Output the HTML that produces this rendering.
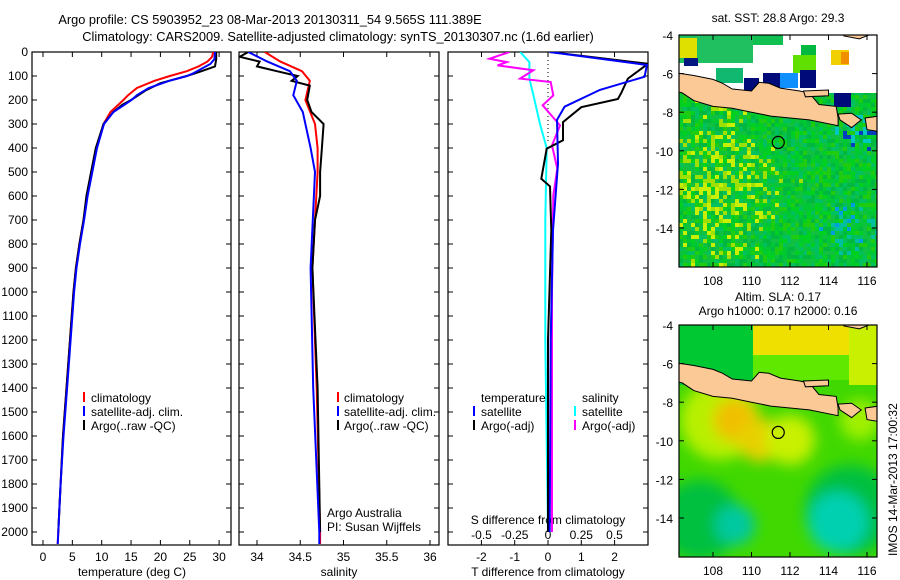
<!DOCTYPE html>
<html><head><meta charset="utf-8"><style>
html,body{margin:0;padding:0;background:#fff}
svg{display:block;font-family:"Liberation Sans",sans-serif}
text{font-size:12px;fill:#000}
text.t{font-size:12.8px}
</style></head><body>
<svg id="s" width="900" height="580" viewBox="0 0 900 580">
<defs>
<filter id="blur" x="-20%" y="-20%" width="140%" height="140%"><feGaussianBlur stdDeviation="7"/></filter>
<clipPath id="cp1"><rect x="32" y="52" width="199" height="493"/></clipPath>
<clipPath id="cp2"><rect x="239" y="52" width="200" height="493"/></clipPath>
<clipPath id="cp3"><rect x="448" y="52" width="200" height="493"/></clipPath>
<clipPath id="cm1"><rect x="679" y="35" width="198" height="232"/></clipPath>
<clipPath id="cm2"><rect x="679" y="325" width="198" height="232"/></clipPath>
</defs>
<text class="t" x="270" y="24" text-anchor="middle">Argo profile: CS 5903952_23 08-Mar-2013 20130311_54 9.565S 111.389E</text>
<text class="t" x="338" y="41" text-anchor="middle">Climatology: CARS2009. Satellite-adjusted climatology: synTS_20130307.nc (1.6d earlier)</text>
<g id="g"></g>
</svg>
<script>
// ---------- data ----------
const tDepth   = [0,20,40,60,80,100,120,150,180,200,250,300,400,500,600,700,800,900,1000,1200,1400,1600,1800,2000,2050];
const tClim    = [29.0,28.8,28.0,26.5,24.5,21.6,19.0,16.0,14.5,13.7,11.5,10.3,9.1,8.3,7.5,6.9,6.2,5.6,5.2,4.6,4.0,3.4,3.0,2.6,2.5];
const tSatDepth= [0,30,50,70,90,100,120,150,180,200,250,300,400,500,600,700,800,900,1000,1200,1400,1600,1800,2000,2050];
const tSat     = [29.3,29.2,28.5,27.0,25.5,24.5,21.5,18.0,16.0,15.1,12.0,10.4,9.2,8.4,7.6,7.0,6.3,5.7,5.3,4.7,4.1,3.5,3.0,2.6,2.5];
const tArgoDepth=[0,30,60,80,100,130,160,200,220,250,300,400,500,600,700,800,900,1000,1200,1400,1600,1800,1950,2000];
const tArgo    = [29.5,29.5,29.3,27.0,24.5,20.0,17.5,15.0,13.5,12.0,10.3,9.0,8.2,7.4,6.9,6.2,5.6,5.2,4.6,4.0,3.4,3.0,2.7,2.6];

const sClimDepth=[0,40,80,120,200,300,400,500,700,900,1400,2000,2050];
const sClim    = [34.09,34.27,34.52,34.61,34.56,34.67,34.70,34.70,34.67,34.64,34.69,34.73,34.73];
const sSatDepth= [0,40,80,120,180,250,400,500,900,1400,2000,2050];
const sSat     = [33.90,34.12,34.38,34.46,34.42,34.53,34.62,34.67,34.62,34.65,34.72,34.72];
const sArgoDepth=[0,20,40,60,80,100,120,140,200,250,300,400,500,600,700,900,1400,2000];
const sArgo    = [33.90,33.80,34.03,34.00,34.23,34.47,34.40,34.61,34.58,34.63,34.77,34.75,34.73,34.73,34.67,34.64,34.70,34.73];

const dTSatDepth=[0,54,103,158,228,283,465,743,1200,2000];
const dTSat    = [0.05,2.97,2.9,1.56,0.5,0.27,0.3,0.15,0.08,0.05];
const dTArgoDepth=[0,49,111,170,196,230,292,368,403,528,560,743,1200,2000];
const dTArgo   = [0.05,3.0,2.4,2.2,2.1,1.0,0.45,0.45,-0.04,-0.2,0.06,0.1,0.0,0.0];
const dSSatDepth=[0,42,111,180,300,400,700,1200,2000];
const dSSat    = [-0.21,-0.14,-0.14,-0.11,-0.06,-0.01,-0.02,-0.02,0.0];
const dSArgoDepth=[0,28,42,56,76,111,125,181,222,306,389,486,597,1000,2000];
const dSArgo   = [-0.29,-0.44,-0.31,-0.38,-0.11,-0.21,0.02,0.04,-0.04,0.09,0.03,0.07,0.04,0.03,0.03];

const depthTicks=[0,100,200,300,400,500,600,700,800,900,1000,1100,1200,1300,1400,1500,1600,1700,1800,1900,2000];
const tTicks=[0,5,10,15,20,25,30];
const sTicks=[34,34.5,35,35.5,36];
const dTTicks=[-2,-1,0,1,2];
const dSTicks=[-0.5,-0.25,0,0.25,0.5];
const latTicks=[-4,-6,-8,-10,-12,-14];
const lonTicks=[108,110,112,114,116];

// ---------- helpers ----------
const NS="http://www.w3.org/2000/svg", G=document.getElementById('g');
function mk(tag,attrs,parent){const e=document.createElementNS(NS,tag);for(const k in attrs)e.setAttribute(k,attrs[k]);(parent||G).appendChild(e);return e;}
function txt(x,y,s,anchor,parent){const e=mk('text',{x:x,y:y,'text-anchor':anchor||'start'},parent);e.textContent=s;return e;}
const yD=d=>52+d*0.24;
const xT=v=>43+v*5.87;
const xS=v=>257+(v-34)*86.5;
const xDT=v=>548+v*33.3;
const xDS=v=>548+v*133;
function line(xs,ds,fx,color,clip,name){
  const p=xs.map((v,i)=>fx(v).toFixed(1)+','+yD(ds[i]).toFixed(1)).join(' ');
  const e=mk('polyline',{points:p,fill:'none',stroke:color,'stroke-width':2,'clip-path':'url(#'+clip+')'});
  
  
}
function frame(x,y,w,h,name){const e=mk('rect',{x:x,y:y,width:w,height:h,fill:'none',stroke:'#000','stroke-width':1.2});
  
  }
function vtick(x,y0,y1){mk('line',{x1:x,y1:y0,x2:x,y2:y1,stroke:'#000','stroke-width':1});}
function htick(y,x0,x1){mk('line',{x1:x0,y1:y,x2:x1,y2:y,stroke:'#000','stroke-width':1});}

// ---------- panel 1: temperature ----------
frame(32,52,199,493,'temperature-panel');
depthTicks.forEach(d=>{htick(yD(d),32,37);htick(yD(d),226,231);htick(yD(d),239,244);htick(yD(d),434,439);htick(yD(d),448,453);htick(yD(d),643,648);
  const t=txt(28,yD(d)+4,String(d),'end');});
tTicks.forEach(v=>{vtick(xT(v),545,540);vtick(xT(v),52,57);txt(xT(v),561,String(v),'middle');});
txt(132,576,'temperature (deg C)','middle');
line(tClim,tDepth,xT,'#f00','cp1','temp-climatology-line');
line(tArgo,tArgoDepth,xT,'#000','cp1','temp-argo-line');
line(tSat,tSatDepth,xT,'#00f','cp1','temp-satellite-line');
[['#f00','climatology'],['#00f','satellite-adj. clim.'],['#000','Argo(..raw -QC)']].forEach((l,i)=>{
  mk('rect',{x:83,y:392+i*14,width:2,height:10,fill:l[0]});txt(91,402+i*14,l[1]);
  mk('rect',{x:337,y:392+i*14,width:2,height:10,fill:l[0]});txt(344,402+i*14,l[1]);
});

// ---------- panel 2: salinity ----------
frame(239,52,200,493,'salinity-panel');
sTicks.forEach(v=>{vtick(xS(v),545,540);vtick(xS(v),52,57);txt(xS(v),561,String(v),'middle');});
txt(339,576,'salinity','middle');
line(sClim,sClimDepth,xS,'#f00','cp2','sal-climatology-line');
line(sArgo,sArgoDepth,xS,'#000','cp2','sal-argo-line');
line(sSat,sSatDepth,xS,'#00f','cp2','sal-satellite-line');
txt(327,517,'Argo Australia');txt(327,531,'PI: Susan Wijffels');

// ---------- panel 3: differences ----------
frame(448,52,200,493,'difference-panel');
mk('line',{x1:548,y1:52,x2:548,y2:yD(380),stroke:'#000','stroke-width':1,'stroke-dasharray':'1,3'});
dTTicks.forEach(v=>{vtick(xDT(v),545,540);txt(xDT(v),561,String(v),'middle');});
dSTicks.forEach(v=>{vtick(xDS(v),52,57);txt(xDS(v),539,String(v),'middle');});
txt(548,524,'S difference from climatology','middle');
txt(548,576,'T difference from climatology','middle');
line(dSSat,dSSatDepth,xDS,'#0ff','cp3','sal-diff-satellite-line');
line(dSArgo,dSArgoDepth,xDS,'#f0f','cp3','sal-diff-argo-line');
line(dTArgo,dTArgoDepth,xDT,'#000','cp3','temp-diff-argo-line');
line(dTSat,dTSatDepth,xDT,'#00f','cp3','temp-diff-satellite-line');
txt(481,402,'temperature');txt(582,402,'salinity');
mk('rect',{x:473,y:406,width:2,height:10,fill:'#00f'});txt(481,416,'satellite');
mk('rect',{x:473,y:420,width:2,height:10,fill:'#000'});txt(481,430,'Argo(-adj)');
mk('rect',{x:574,y:406,width:2,height:10,fill:'#0ff'});txt(582,416,'satellite');
mk('rect',{x:574,y:420,width:2,height:10,fill:'#f0f'});txt(582,430,'Argo(-adj)');

// ---------- maps ----------
const lonX=l=>713+(l-108)*19.25;
function latY(top){return a=>top+(-4-a)*19.3;}
const java=[[106.0,-5.95],[107,-6.1],[108,-6.3],[108.5,-6.5],[109,-6.8],[110,-6.9],[110.4,-6.45],[110.9,-6.5],[111.5,-6.75],[112.5,-6.9],[113,-7.0],[113.5,-7.6],[114.4,-7.7],[114.5,-8.3],[114.5,-8.7],[113,-8.4],[112,-8.3],[111,-8.2],[110,-8.0],[109,-7.8],[108,-7.7],[107,-7.4],[106.4,-7.0],[106.0,-6.9]];
const madura=[[112.7,-6.9],[114,-6.85],[114,-7.15],[112.8,-7.2]];
const bali=[[114.5,-8.1],[115.2,-8.05],[115.7,-8.4],[115.2,-8.8],[114.6,-8.4]];
const lombok=[[115.9,-8.3],[116.6,-8.2],[116.6,-9.0],[116.0,-8.9]];
const borneo=[[114.7,-3.5],[116.6,-3.5],[116.6,-3.8],[115.6,-4.2],[114.8,-4.05]];
function land(top,clip){const ly=latY(top);[java,madura,bali,lombok,borneo].forEach(p=>{
  mk('polygon',{points:p.map(q=>lonX(q[0]).toFixed(1)+','+ly(q[1]).toFixed(1)).join(' '),fill:'#fbc996',stroke:'#000','stroke-width':1,'clip-path':'url(#'+clip+')'});});
  mk('circle',{cx:lonX(111.389),cy:ly(-9.565),r:6,fill:'none',stroke:'#000','stroke-width':1.2});}
function mapAxes(top,bottom){const ly=latY(top);
  latTicks.forEach(a=>{htick(ly(a),679,684);htick(ly(a),872,877);txt(673,ly(a)+5,String(a),'end');});
  lonTicks.forEach(l=>{vtick(lonX(l),top,top+5);vtick(lonX(l),bottom,bottom-5);txt(lonX(l),bottom+18,String(l),'middle');});}

// map 1 : SST
const m1=mk('g',{'clip-path':'url(#cm1)'});


const greens=['#00c832','#00d020','#10c040','#00b840','#20cc10','#00c060'];
function h(i,j){let n=(i*374761393+j*668265263)>>>0;n=(n^(n>>>13))*1274126177>>>0;return (n%1000)/1000;}
for(let i=0;i<50;i++)for(let j=0;j<60;j++){
  const x=679+i*4,y=35+j*4;let c=greens[Math.floor(h(i,j)*6)];
  const lx=i/50,ly=j/60;
  const yw=Math.max(0,0.55-Math.abs(lx-0.18)*1.2-Math.abs(ly-0.62)*1.0);
  if(h(i+7,j)<yw)c=h(i,j+3)<0.5?'#a0e000':'#c8f000';
  const cy=Math.max(0,0.45-Math.abs(lx-0.88)*2.5-Math.abs(ly-0.4)*4);
  if(h(i,j+9)<cy)c=h(i,j)<0.4?'#0040c0':'#00c8c0';
  const cb=Math.max(0,0.4-Math.abs(lx-0.85)*2-Math.abs(ly-0.8)*2.5);
  if(h(i+3,j+1)<cb)c=h(i,j)<0.3?'#00a0e0':'#00c0a0';
  mk('rect',{x:x,y:y,width:4,height:4,fill:c},m1);
}
mk('rect',{x:679,y:35,width:198,height:58,fill:'#fff'},m1);
[[679,35,74,28,'#20c060'],[679,38,18,20,'#e0e000'],[684,58,14,8,'#001880'],[753,35,30,10,'#10c050'],[716,68,27,15,'#10b870'],
 [744,78,15,17,'#000a78'],[763,73,17,15,'#000a78'],[780,73,18,15,'#1090ff'],[793,55,23,18,'#60e000'],[801,45,15,10,'#00b840'],
 [800,70,16,18,'#000a78'],[831,50,18,15,'#f0d000'],[841,52,8,12,'#f09000'],[834,93,17,14,'#000a78']].forEach(r=>
 mk('rect',{x:r[0],y:r[1],width:r[2],height:r[3],fill:r[4]},m1));
land(35,'cm1');
frame(679,35,198,232,'sst-map-frame');
mapAxes(35,267);
txt(778,22,'sat. SST: 28.8 Argo: 29.3','middle');

// map 2 : SLA
const m2=mk('g',{'clip-path':'url(#cm2)'});


mk('rect',{x:679,y:325,width:198,height:232,fill:'#40d800'},m2);
const bl=mk('g',{filter:'url(#blur)'},m2);
[[720,420,40,'#b8f000'],[735,420,22,'#f0c000'],[760,440,22,'#e8d000'],[790,440,25,'#c8f000'],[700,520,40,'#00c040'],
 [850,510,45,'#00c040'],[735,525,20,'#00c8a0'],[838,522,30,'#00d0b0'],[860,420,20,'#a0f000']].forEach(c=>
 mk('circle',{cx:c[0],cy:c[1],r:c[2],fill:c[3]},bl));
mk('rect',{x:679,y:325,width:74,height:60,fill:'#00c832'},m2);
mk('rect',{x:753,y:325,width:96,height:30,fill:'#f0e000'},m2);
mk('rect',{x:849,y:325,width:28,height:60,fill:'#c8f000'},m2);
mk('rect',{x:753,y:355,width:96,height:25,fill:'#60e800'},m2);
land(325,'cm2');
frame(679,325,198,232,'sla-map-frame');
mapAxes(325,557);
txt(778,301,'Altim. SLA: 0.17','middle');
txt(778,315,'Argo h1000: 0.17 h2000: 0.16','middle');
const v=txt(0,0,'IMOS 14-Mar-2013 17:00:32','start');v.setAttribute('transform','translate(897,556) rotate(-90)');
</script>
</body></html>
